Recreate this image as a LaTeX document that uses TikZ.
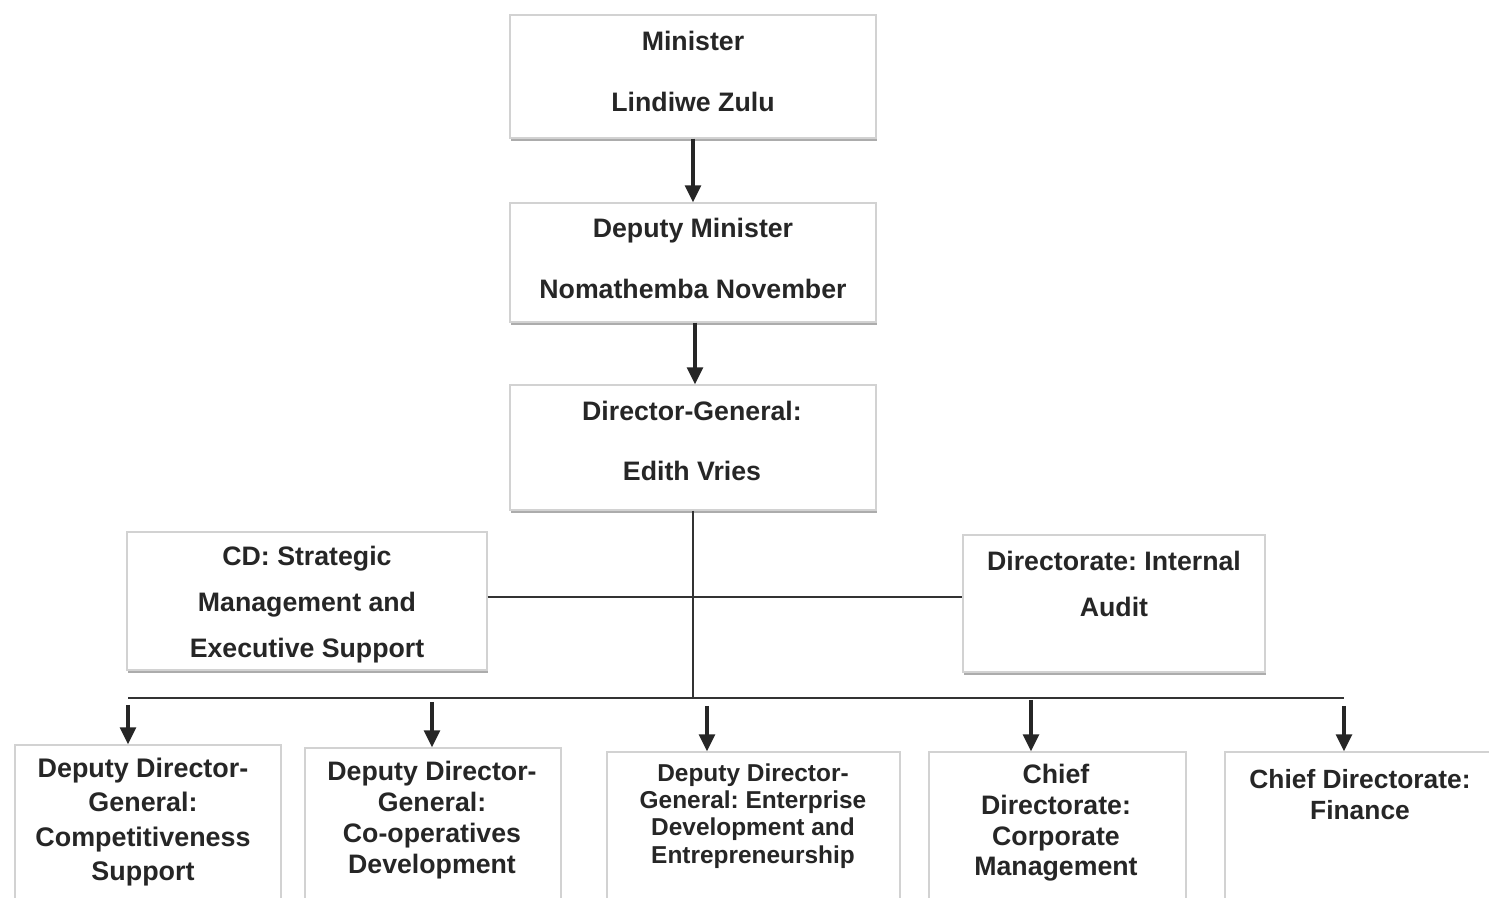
\documentclass[tikz,border=0pt]{standalone}
\usepackage{fontspec}
\setmainfont{Liberation Sans}
\frenchspacing
\usetikzlibrary{arrows.meta, shadows}

\begin{document}
\begin{tikzpicture}[
    x=0.02cm, y=-0.02cm,
    box/.style={draw=gray!35, line width=0.8pt, fill=white, inner sep=0pt,
                drop shadow={shadow xshift=0.6pt, shadow yshift=-1.6pt, fill=gray!65, opacity=1}},
    txt/.style={align=center, text=black!85, inner sep=0pt},
    big/.style={font=\bfseries\fontsize{15.2}{34.7}\selectfont},
    arr/.style={-{Triangle[width=0.32cm, length=0.34cm]}, line width=1.8pt, black!85},
    link/.style={line width=1.1pt, black!80}
  ]
  \useasboundingbox (0,0) rectangle (1489,898);

  % Boxes
  \node[box, minimum width=7.32cm, minimum height=2.46cm] (min)  at (693,76.5)  {};
  \node[box, minimum width=7.32cm, minimum height=2.38cm] (dmin) at (693,262.5) {};
  \node[box, minimum width=7.32cm, minimum height=2.5cm]  (dg)   at (693,447.5) {};
  \node[box, minimum width=7.2cm,  minimum height=2.76cm] (cd)   at (307,601)   {};
  \node[box, minimum width=6.04cm, minimum height=2.74cm] (ia)   at (1114,603.5) {};
  \node[box, minimum width=5.32cm, minimum height=3.2cm]  (b1)   at (148,825)   {};
  \node[box, minimum width=5.12cm, minimum height=3.14cm] (b2)   at (433,826.5) {};
  \node[box, minimum width=5.86cm, minimum height=3.06cm] (b3)   at (753.5,828.5) {};
  \node[box, minimum width=5.14cm, minimum height=3.06cm] (b4)   at (1057.5,828.5) {};
  \node[box, minimum width=5.4cm,  minimum height=3.06cm] (b5)   at (1360,828.5) {};

  % Texts
  \node[txt, big] (minT)  at (693,71) {Minister\\Lindiwe Zulu};
  \node[txt, big] (dminT) at (693,258)  {Deputy Minister\\Nomathemba November};
  \node[txt, font=\bfseries\fontsize{15.2}{34.1}\selectfont] (dgT) at (692,441) {Director-General:\\Edith Vries};
  \node[txt, font=\bfseries\fontsize{15.2}{26.2}\selectfont] (cdT) at (307,605) {CD: Strategic\\Management and\\Executive Support};
  \node[txt, font=\bfseries\fontsize{15.2}{26.2}\selectfont] (iaT) at (1114,584) {Directorate: Internal\\Audit};
  \node[txt, font=\bfseries\fontsize{15.3}{19.7}\selectfont] (b1T) at (143,822) {Deputy Director-\\General:\\Competitiveness\\Support};
  \node[txt, font=\bfseries\fontsize{15.2}{17.5}\selectfont] (b2T) at (432,820) {Deputy Director-\\General:\\Co-operatives\\Development};
  \node[txt, font=\bfseries\fontsize{13.9}{15.5}\selectfont] (b3T) at (753,816) {Deputy Director-\\General: Enterprise\\Development and\\Entrepreneurship};
  \node[txt, font=\bfseries\fontsize{15.2}{17.5}\selectfont] (b4T) at (1056,823) {Chief\\Directorate:\\Corporate\\Management};
  \node[txt, font=\bfseries\fontsize{15}{17.6}\selectfont] (b5T) at (1360,794.5) {Chief Directorate:\\Finance};

  % Connectors
  \coordinate (mid)  at (693,597);
  \coordinate (bus)  at (693,698);
  \coordinate (busL) at (128,698);
  \coordinate (busR) at (1344,698);
  \draw[arr] (min) -- (dmin);
  \draw[arr] (dmin.south -| 695,0) -- (dg.north -| 695,0);
  \draw[link] (dg.south) -- (bus);
  \draw[link] (cd.east |- mid) -- (ia.west |- mid);
  \draw[link] (busL) -- (busR);
  \foreach \x/\b/\y in {128/b1/705, 432/b2/702, 707/b3/706, 1031/b4/700, 1344/b5/706} {
    \coordinate (t\b) at (\x,\y);
    \draw[arr] (t\b) -- (t\b |- \b.north);
  }
\end{tikzpicture}
\end{document}
